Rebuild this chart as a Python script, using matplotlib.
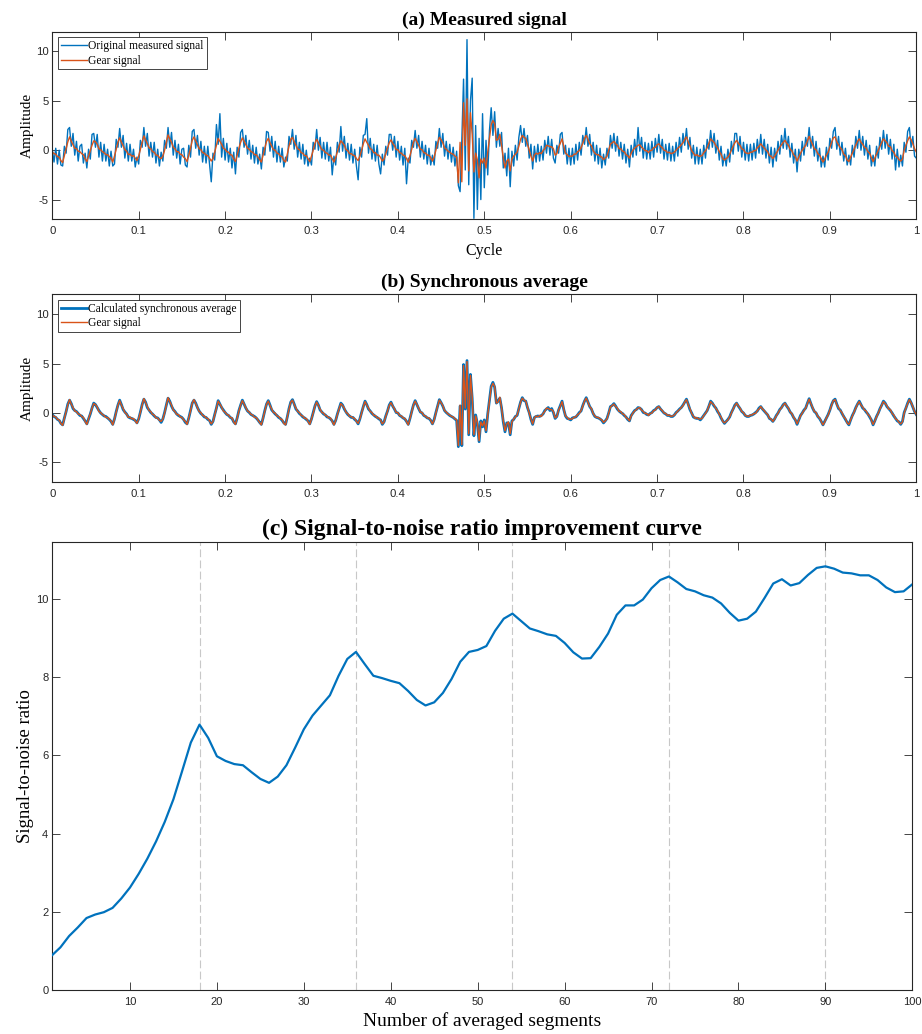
import numpy as np
import matplotlib
matplotlib.use("Agg")
import matplotlib.pyplot as plt
from matplotlib.ticker import FuncFormatter

# ---------------------------------------------------------------------------
# Data
# ---------------------------------------------------------------------------
cycle_step = 0.002  # sampling step, in shaft cycles

gear_signal = [
    -0.17, -0.35, -0.4, -0.65, -0.7, -1.05, -1.25, -0.55, 0.15, 0.85,
    1.35, 0.9, 0.55, 0.2, 0.15, -0.1, -0.15, -0.35, -0.45, -0.85,
    -1.15, -0.6, -0.05, 0.5, 0.95, 0.85, 0.6, 0.15, 0.05, -0.15,
    -0.25, -0.45, -0.45, -0.65, -0.8, -1.2, -0.6, 0.1, 0.8, 1.25,
    0.8, 0.45, 0.05, -0.1, -0.45, -0.4, -0.6, -0.55, -0.8, -1.05,
    -0.6, 0.1, 0.8, 1.45, 1.05, 0.65, 0.25, 0.15, -0.15, -0.2,
    -0.5, -0.5, -0.75, -0.85, -0.6, 0.0, 0.8, 1.55, 1.15, 0.8,
    0.3, 0.15, -0.15, -0.15, -0.4, -0.45, -0.7, -0.85, -1.15, -0.5,
    0.2, 1.0, 1.35, 0.95, 0.55, 0.15, 0.05, -0.25, -0.3, -0.5,
    -0.55, -0.8, -1.1, -0.85, -0.2, 0.5, 1.2, 0.9, 0.6, 0.2,
    0.1, -0.15, -0.2, -0.45, -0.5, -0.9, -1.15, -0.5, 0.2, 0.8,
    1.25, 0.9, 0.55, 0.2, 0.1, -0.15, -0.2, -0.45, -0.45, -0.7,
    -0.95, -1.2, -0.5, 0.2, 0.9, 1.2, 0.75, 0.4, 0.05, 0.0,
    -0.3, -0.35, -0.6, -0.65, -1.05, -1.2, -0.4, 0.4, 1.1, 1.3,
    0.85, 0.5, 0.15, 0.05, -0.25, -0.3, -0.55, -0.55, -0.85, -1.15,
    -0.6, 0.0, 0.7, 1.1, 0.75, 0.4, 0.05, 0.0, -0.25, -0.3,
    -0.5, -0.5, -0.85, -1.2, -0.75, -0.15, 0.45, 0.95, 0.75, 0.5,
    0.05, -0.05, -0.35, -0.35, -0.5, -0.55, -0.85, -1.05, -0.6, 0.0,
    0.65, 1.15, 0.8, 0.5, 0.15, 0.05, -0.25, -0.25, -0.5, -0.5,
    -0.75, -1.1, -0.9, -0.35, 0.2, 0.75, 1.05, 0.7, 0.45, 0.05,
    0.05, -0.25, -0.3, -0.5, -0.55, -0.85, -1.2, -0.55, 0.1, 0.8,
    1.2, 0.85, 0.5, 0.1, 0.05, -0.25, -0.3, -0.5, -0.5, -0.75,
    -1.1, -0.7, 0.0, 0.7, 1.3, 1.05, 0.75, 0.25, 0.1, -0.1,
    -0.2, -0.35, -0.4, -0.6, -0.7, -3.3, 0.8, -3.2, 4.8, 0.5,
    5.2, -2.1, 3.8, 1.6, -2.2, -0.3, -1.0, -2.8, -0.9, -1.3,
    -0.8, -1.8, -0.2, 1.2, 2.6, 3.0, 2.7, 1.0, 1.1, 1.6,
    0.5, -0.8, -1.8, -1.1, -0.9, -2.1, -0.9, -0.6, -0.4, -0.2,
    0.4, 1.1, 1.5, 1.3, 1.2, 0.6, 0.0, -0.6, -1.1, -0.5,
    -0.3, -0.4, -0.25, -0.35, -0.05, 0.15, 0.5, 0.45, 0.35, 0.35,
    0.15, -0.5, -0.35, 0.3, 0.7, 1.15, 0.4, -0.3, -0.45, -0.65,
    -0.6, -0.6, -0.4, -0.4, -0.15, -0.05, 0.25, 0.7, 1.2, 1.5,
    1.1, 0.65, 0.45, -0.05, -0.3, -0.45, -0.45, -0.6, -0.7, -0.95,
    -0.8, -0.6, 0.0, 0.6, 0.75, 0.9, 0.65, 0.5, 0.15, 0.15,
    -0.1, -0.15, -0.45, -0.55, -0.8, -0.3, 0.0, 0.2, 0.35, 0.5,
    0.55, 0.3, 0.15, -0.05, -0.05, -0.25, -0.05, 0.0, 0.25, 0.3,
    0.55, 0.65, 0.4, 0.25, 0.0, -0.05, -0.25, -0.2, -0.35, -0.3,
    -0.2, 0.0, 0.2, 0.35, 0.55, 0.75, 1.1, 1.35, 0.85, 0.45,
    -0.05, -0.3, -0.55, -0.45, -0.6, -0.6, -0.55, -0.25, -0.05, 0.25,
    0.7, 1.15, 0.95, 0.8, 0.45, 0.25, -0.15, -0.4, -0.85, -1.0,
    -0.85, -0.7, -0.4, 0.0, 0.4, 0.75, 1.0, 0.7, 0.5, 0.15,
    0.05, -0.25, -0.3, -0.35, -0.2, -0.2, -0.05, -0.05, 0.25, 0.4,
    0.65, 0.4, 0.25, 0.0, -0.15, -0.55, -0.6, -0.85, -0.6, -0.3,
    0.0, 0.3, 0.55, 0.8, 1.0, 0.7, 0.5, 0.1, -0.05, -0.45,
    -0.65, -1.1, -0.7, -0.3, 0.0, 0.25, 0.5, 0.95, 1.4, 0.95,
    0.55, 0.15, 0.05, -0.35, -0.5, -0.85, -1.2, -0.9, -0.5, -0.2,
    0.3, 0.8, 1.25, 1.35, 0.85, 0.55, 0.25, 0.05, -0.4, -0.55,
    -1.0, -1.15, -0.7, -0.3, 0.1, 0.5, 0.9, 1.15, 0.8, 0.6,
    0.3, 0.2, -0.15, -0.3, -0.75, -1.15, -0.8, -0.4, 0.0, 0.4,
    0.8, 1.15, 0.95, 0.75, 0.4, 0.35, -0.05, -0.2, -0.6, -0.7,
    -0.95, -1.1, -0.9, 0.0, 0.5, 0.95, 1.35, 1.05, 0.65, 0.15,
    -0.17,
]

sync_average = [
    -0.15, -0.35, -0.45, -0.65, -0.75, -1.05, -1.2, -0.5, 0.15, 0.9,
    1.3, 0.95, 0.45, 0.25, 0.15, -0.05, -0.25, -0.3, -0.55, -0.8,
    -1.1, -0.6, -0.1, 0.5, 1.0, 0.85, 0.55, 0.25, 0.0, -0.15,
    -0.3, -0.35, -0.5, -0.65, -0.85, -1.15, -0.6, 0.15, 0.8, 1.3,
    0.85, 0.35, 0.1, -0.1, -0.4, -0.5, -0.55, -0.65, -0.75, -1.0,
    -0.6, 0.1, 0.85, 1.4, 1.1, 0.55, 0.3, 0.05, -0.1, -0.3,
    -0.45, -0.5, -0.7, -0.95, -0.6, 0.05, 0.8, 1.5, 1.2, 0.7,
    0.35, 0.15, -0.1, -0.25, -0.35, -0.45, -0.65, -0.95, -1.1, -0.5,
    0.25, 1.0, 1.3, 1.0, 0.55, 0.2, -0.05, -0.2, -0.4, -0.45,
    -0.65, -0.75, -1.15, -0.85, -0.15, 0.5, 1.25, 0.9, 0.55, 0.3,
    0.05, -0.15, -0.25, -0.45, -0.55, -0.9, -1.1, -0.5, 0.25, 0.8,
    1.3, 0.9, 0.5, 0.2, 0.05, -0.15, -0.25, -0.35, -0.5, -0.7,
    -0.95, -1.15, -0.5, 0.25, 0.9, 1.25, 0.8, 0.3, 0.1, -0.1,
    -0.25, -0.45, -0.55, -0.75, -1.0, -1.15, -0.4, 0.45, 1.1, 1.35,
    0.9, 0.4, 0.2, -0.05, -0.2, -0.4, -0.5, -0.65, -0.8, -1.1,
    -0.6, 0.05, 0.7, 1.15, 0.8, 0.3, 0.1, -0.1, -0.2, -0.4,
    -0.45, -0.6, -0.8, -1.15, -0.75, -0.1, 0.45, 1.0, 0.8, 0.4,
    0.1, -0.15, -0.3, -0.45, -0.45, -0.65, -0.8, -1.1, -0.6, 0.05,
    0.65, 1.2, 0.85, 0.4, 0.2, -0.05, -0.2, -0.35, -0.45, -0.6,
    -0.7, -1.15, -0.9, -0.3, 0.2, 0.8, 1.1, 0.7, 0.4, 0.05,
    0.0, -0.25, -0.35, -0.5, -0.6, -0.85, -1.15, -0.55, 0.15, 0.8,
    1.25, 0.85, 0.45, 0.1, 0.0, -0.25, -0.35, -0.5, -0.55, -0.75,
    -1.1, -0.65, 0.05, 0.7, 1.35, 1.05, 0.7, 0.25, 0.05, -0.1,
    -0.25, -0.35, -0.45, -0.6, -0.75, -3.4, 0.7, -3.3, 4.9, 0.4,
    5.3, -2.2, 3.9, 1.5, -2.3, -0.2, -1.1, -2.9, -0.8, -1.4,
    -0.7, -1.9, -0.1, 1.3, 2.7, 3.1, 2.6, 1.0, 1.2, 1.5,
    0.5, -0.9, -1.9, -1.0, -1.0, -2.2, -0.8, -0.65, -0.35, -0.25,
    0.45, 1.1, 1.55, 1.25, 1.2, 0.55, 0.05, -0.65, -1.15, -0.45,
    -0.35, -0.3, -0.35, -0.25, -0.1, 0.25, 0.4, 0.55, 0.25, 0.45,
    0.05, -0.55, -0.35, 0.3, 0.75, 1.2, 0.35, -0.3, -0.55, -0.6,
    -0.7, -0.5, -0.45, -0.4, -0.2, 0.05, 0.2, 0.75, 1.2, 1.55,
    1.1, 0.65, 0.4, -0.05, -0.35, -0.45, -0.5, -0.6, -0.75, -1.0,
    -0.8, -0.55, 0.0, 0.65, 0.75, 0.95, 0.7, 0.4, 0.2, 0.05,
    -0.05, -0.25, -0.4, -0.65, -0.8, -0.25, 0.0, 0.25, 0.35, 0.55,
    0.5, 0.35, 0.05, 0.0, -0.15, -0.2, -0.05, 0.05, 0.25, 0.35,
    0.55, 0.65, 0.4, 0.2, 0.0, -0.1, -0.25, -0.25, -0.35, -0.35,
    -0.2, 0.05, 0.2, 0.4, 0.55, 0.8, 1.1, 1.4, 0.9, 0.35,
    0.0, -0.4, -0.5, -0.55, -0.55, -0.7, -0.5, -0.25, 0.0, 0.25,
    0.7, 1.2, 1.0, 0.7, 0.5, 0.15, -0.1, -0.5, -0.8, -1.05,
    -0.85, -0.65, -0.4, 0.05, 0.4, 0.8, 1.0, 0.7, 0.45, 0.15,
    0.0, -0.25, -0.35, -0.35, -0.25, -0.2, -0.1, 0.05, 0.2, 0.5,
    0.65, 0.4, 0.2, 0.0, -0.2, -0.55, -0.65, -0.85, -0.6, -0.25,
    0.0, 0.35, 0.55, 0.85, 1.0, 0.7, 0.45, 0.1, -0.1, -0.45,
    -0.7, -1.15, -0.7, -0.25, 0.0, 0.3, 0.5, 1.0, 1.45, 0.95,
    0.5, 0.15, 0.0, -0.35, -0.55, -0.85, -1.2, -0.85, -0.5, -0.15,
    0.3, 0.85, 1.25, 1.4, 0.9, 0.45, 0.3, -0.05, -0.35, -0.65,
    -0.95, -1.2, -0.7, -0.25, 0.1, 0.55, 0.9, 1.2, 0.85, 0.5,
    0.35, 0.1, -0.1, -0.4, -0.7, -1.2, -0.8, -0.35, 0.0, 0.45,
    0.8, 1.2, 1.0, 0.65, 0.45, 0.25, 0.0, -0.3, -0.55, -0.8,
    -0.9, -1.15, -0.85, 0.05, 0.5, 1.0, 1.4, 1.05, 0.6, 0.15,
    -0.15,
]

measured_signal = [
    0.1, -1.2, 0.2, -1.4, 0.0, -1.5, -1.6, 0.4, -0.3, 2.1,
    2.3, 0.4, 1.7, -0.5, 0.9, -1.1, 0.4, 0.6, -1.3, -0.3,
    -1.8, 0.1, -0.9, 1.6, 1.7, 0.3, 1.6, -0.7, 0.8, -1.1,
    0.6, -1.1, 0.1, -1.6, -0.1, -1.6, -1.4, 1.1, 0.3, 2.2,
    0.3, 1.5, -0.8, 0.7, -1.1, 0.6, -1.1, 0.1, -1.7, -0.7,
    -1.4, 1.0, 0.3, 2.3, 0.4, 1.7, -0.6, 0.8, -0.7, 0.8,
    -1.3, 0.1, -1.6, -0.2, -1.1, 1.0, 0.2, 2.3, 0.3, 1.8,
    -0.5, 1.0, -0.8, 0.6, -1.4, 0.1, 0.2, -1.5, -1.7, 0.5,
    -0.7, 1.9, 2.1, 0.2, 1.5, -0.5, 0.9, -1.2, 0.4, -1.3,
    0.4, -1.4, -3.2, -0.3, -1.0, 2.6, 0.6, 3.7, -0.7, 1.2,
    -1.0, 0.7, -1.2, 0.2, -1.8, -0.2, -2.4, 0.3, -0.7, 1.8,
    2.1, 0.3, 1.5, -0.4, 1.0, -0.9, 0.5, -1.3, 0.3, -1.4,
    -0.4, -1.9, 0.3, -0.5, 1.9, 1.8, -0.1, 1.4, -0.7, 0.9,
    -1.2, 0.4, -1.2, 0.2, -1.7, -0.7, -1.1, 1.4, 0.6, 2.1,
    0.1, 1.5, -0.7, 0.8, -0.9, 0.6, -1.4, 0.0, -1.6, -0.8,
    -1.5, 0.8, 0.1, 2.1, 0.0, 1.3, -0.8, 0.8, -0.9, 0.8,
    -1.1, 0.3, -2.5, -0.6, -1.5, 0.8, -0.2, 2.4, -0.1, 1.4,
    -0.8, 0.7, -1.0, 0.6, -1.3, 0.1, -1.6, -3.0, 0.3, -0.7,
    1.5, 1.6, 3.2, -0.3, 1.2, -0.9, 0.6, -1.1, 0.5, -1.4,
    -2.4, -0.4, -1.5, 0.4, -0.5, 1.6, 1.6, 0.0, 1.4, -0.7,
    0.9, -1.0, 0.4, -1.5, 0.2, -3.4, -0.8, -1.3, 1.0, 0.3,
    2.0, 0.2, 1.5, -0.7, 0.9, -0.9, 0.5, -1.4, 0.2, -1.5,
    -0.5, -1.5, 0.9, 0.2, 2.2, 0.3, 1.7, -0.6, 0.9, -0.9,
    0.6, -1.2, 0.3, -1.6, -0.1, -3.6, -4.2, 1.0, 7.2, -2.0,
    11.2, -3.5, 5.0, 7.3, -6.9, 2.5, -6.0, 1.2, -5.0, 3.7,
    -3.8, 1.0, -2.5, 2.0, 4.3, 1.5, 3.9, 0.3, 2.2, 0.4,
    1.8, -1.8, -0.3, -2.6, 0.2, -3.7, -0.1, -1.6, 0.5, -1.0,
    1.3, 2.5, 0.8, 2.2, 0.4, 1.5, -0.8, 0.6, -1.9, 0.4,
    -1.2, 0.6, -1.1, 0.4, -1.0, 1.0, -0.3, 1.4, -0.5, 1.1,
    -0.8, -1.3, 0.5, -0.3, 1.6, 1.8, -0.4, 0.5, -1.4, 0.2,
    -1.5, 0.2, -1.4, 0.6, -1.0, 0.8, -0.5, 1.5, 0.6, 2.3,
    0.4, 1.6, -0.5, 0.8, -1.1, 0.5, -1.4, 0.2, -1.8, -0.4,
    -1.5, 0.2, -0.8, 1.5, 0.2, 1.7, -0.1, 1.4, -0.6, 0.8,
    -0.9, 0.6, -1.3, 0.1, -1.7, 0.5, -0.7, 1.1, -0.5, 2.3,
    -0.1, 1.3, -0.8, 0.8, -0.9, 0.7, -0.9, 0.9, -0.7, 1.2,
    -0.2, 1.6, -0.3, 1.1, -0.9, 0.6, -1.0, 0.7, -1.1, 0.4,
    -1.1, 0.8, -0.6, 1.3, -0.2, 1.7, 0.5, 2.2, 0.1, 1.3,
    -0.8, 0.5, -1.4, 0.3, -1.4, 0.1, -1.4, 0.5, -0.8, 1.1,
    0.1, 2.0, 0.3, 1.7, -0.3, 1.0, -1.0, 0.4, -1.6, -0.4,
    -1.6, 0.1, -1.2, 0.9, -0.4, 1.7, 1.7, -0.1, 1.4, -0.7,
    0.8, -1.0, 0.6, -1.1, 0.6, -1.0, 0.7, -0.8, 1.1, -0.3,
    1.6, -0.4, 1.1, -0.8, 0.6, -1.3, 0.3, -1.7, 0.2, -1.1,
    0.9, -0.4, 1.5, 0.2, 2.2, 0.1, 1.4, -0.7, 0.7, -1.3,
    0.1, -2.2, 0.1, -1.1, 0.9, -0.5, 1.3, 0.4, 2.3, 0.2,
    1.4, -0.6, 0.9, -1.1, 0.2, -1.7, -0.6, -1.7, 0.3, -1.0,
    1.2, 0.2, 1.9, 2.3, 0.1, 1.4, -0.5, 0.8, -1.1, 0.2,
    -1.5, -0.5, -1.5, 0.5, -0.7, 1.4, 0.2, 2.0, 0.0, 1.4,
    -0.5, 1.0, -0.9, 0.5, -1.6, -0.5, -1.6, 0.4, -0.8, 1.3,
    0.1, 2.0, 0.2, 1.6, -0.4, 1.1, -0.9, 0.6, -2.0, 0.1,
    -1.7, -0.5, -1.6, 0.8, -0.2, 1.9, 2.3, 0.3, 1.4, -0.6,
    -0.8,
]

segments = list(range(1, 101))
snr_ratio = [
    0.88, 1.09, 1.38, 1.60, 1.84, 1.93, 1.99, 2.10, 2.34, 2.62,
    2.97, 3.36, 3.80, 4.30, 4.88, 5.60, 6.33, 6.79, 6.45, 5.98,
    5.86, 5.78, 5.75, 5.57, 5.40, 5.30, 5.46, 5.75, 6.20, 6.67,
    7.02, 7.28, 7.54, 8.04, 8.47, 8.65, 8.34, 8.04, 7.98, 7.91,
    7.85, 7.65, 7.42, 7.28, 7.36, 7.60, 7.96, 8.40, 8.65, 8.70,
    8.80, 9.19, 9.50, 9.63, 9.44, 9.25, 9.18, 9.10, 9.06, 8.88,
    8.64, 8.48, 8.49, 8.78, 9.12, 9.60, 9.84, 9.84, 9.99, 10.28,
    10.49, 10.58, 10.43, 10.26, 10.20, 10.10, 10.04, 9.89, 9.65, 9.45,
    9.50, 9.68, 10.03, 10.40, 10.51, 10.35, 10.41, 10.62, 10.80, 10.84,
    10.78, 10.68, 10.66, 10.61, 10.61, 10.49, 10.30, 10.18, 10.20, 10.38,
]
revolution_marks = [18, 36, 54, 72, 90]

cycle_ticks = [0, 0.1, 0.2, 0.3, 0.4, 0.5, 0.6, 0.7, 0.8, 0.9, 1.0]
amplitude_ticks = [-5, 0, 5, 10]
segment_ticks = [10, 20, 30, 40, 50, 60, 70, 80, 90, 100]
snr_ticks = [0, 2, 4, 6, 8, 10]

# ---------------------------------------------------------------------------
# Style
# ---------------------------------------------------------------------------
BLUE = "#0072BD"
ORANGE = "#D95319"
AXIS_GREY = "#262626"

plt.rcParams["font.family"] = ["Liberation Serif", "DejaVu Serif"]
plt.rcParams["axes.unicode_minus"] = False

cycle = np.arange(len(gear_signal)) * cycle_step
assert len(gear_signal) == len(sync_average) == len(measured_signal)


def style_axes(ax, tick_size):
    for spine in ax.spines.values():
        spine.set_color(AXIS_GREY)
        spine.set_linewidth(0.8)
    ax.tick_params(direction="in", length=5.8, width=0.6, top=True, right=True,
                   colors=AXIS_GREY, labelcolor=AXIS_GREY, labelsize=tick_size,
                   labelfontfamily="Liberation Sans")
    ax.tick_params(axis="x", pad=5.0)
    ax.tick_params(axis="y", pad=2.5)


def style_signal_axes(ax):
    ax.set_xlim(0, 1)
    ax.set_ylim(-7, 12)
    ax.set_xticks(cycle_ticks)
    ax.set_yticks(amplitude_ticks)
    ax.xaxis.set_major_formatter(FuncFormatter(lambda v, p: f"{v:g}"))
    style_axes(ax, 8.2)
    ax.set_ylabel("Amplitude", fontsize=11, labelpad=1.5)


def add_legend(ax):
    leg = ax.legend(loc="upper left", bbox_to_anchor=(0.007, 0.97), borderaxespad=0,
                    fontsize=8.3, handlelength=2.2, handletextpad=0.15,
                    borderpad=0.25, labelspacing=0.2, fancybox=False,
                    edgecolor=AXIS_GREY, framealpha=1)
    leg.get_frame().set_linewidth(0.6)


fig = plt.figure(figsize=(9.22, 10.34), dpi=100)

# (a) Measured signal
ax_a = fig.add_axes([0.0567, 0.7879, 0.9371, 0.1814])
ax_a.plot(cycle, measured_signal, color=BLUE, lw=1.0, label="Original measured signal")
ax_a.plot(cycle, gear_signal, color=ORANGE, lw=1.0, label="Gear signal")
style_signal_axes(ax_a)
ax_a.set_xlabel("Cycle", fontsize=11.5, labelpad=5)
ax_a.set_title("(a) Measured signal", fontsize=14, fontweight="bold", pad=5)
add_legend(ax_a)

# (b) Synchronous average
ax_b = fig.add_axes([0.0567, 0.5336, 0.9371, 0.1818])
ax_b.plot(cycle, sync_average, color=BLUE, lw=2.0,
          label="Calculated synchronous average")
ax_b.plot(cycle, gear_signal, color=ORANGE, lw=1.0, label="Gear signal")
style_signal_axes(ax_b)
ax_b.set_title("(b) Synchronous average", fontsize=14, fontweight="bold", pad=5)
add_legend(ax_b)

# (c) SNR improvement curve
ax_c = fig.add_axes([0.0561, 0.0426, 0.9334, 0.4335])
for mark in revolution_marks:
    ax_c.axvline(mark, color="#c8c8c8", lw=0.8, linestyle=(0, (7, 3)), zorder=1)
ax_c.plot(segments, snr_ratio, color=BLUE, lw=1.6, zorder=3)
ax_c.set_xlim(1, 100)
ax_c.set_ylim(0, 11.47)
ax_c.set_xticks(segment_ticks)
ax_c.set_yticks(snr_ticks)
style_axes(ax_c, 8.0)
ax_c.set_xlabel("Number of averaged segments", fontsize=14, labelpad=4)
ax_c.set_ylabel("Signal-to-noise ratio", fontsize=13.5, labelpad=1)
ax_c.set_title("(c) Signal-to-noise ratio improvement curve", fontsize=17,
               fontweight="bold", pad=5)

fig.savefig("out.png", dpi=100)
